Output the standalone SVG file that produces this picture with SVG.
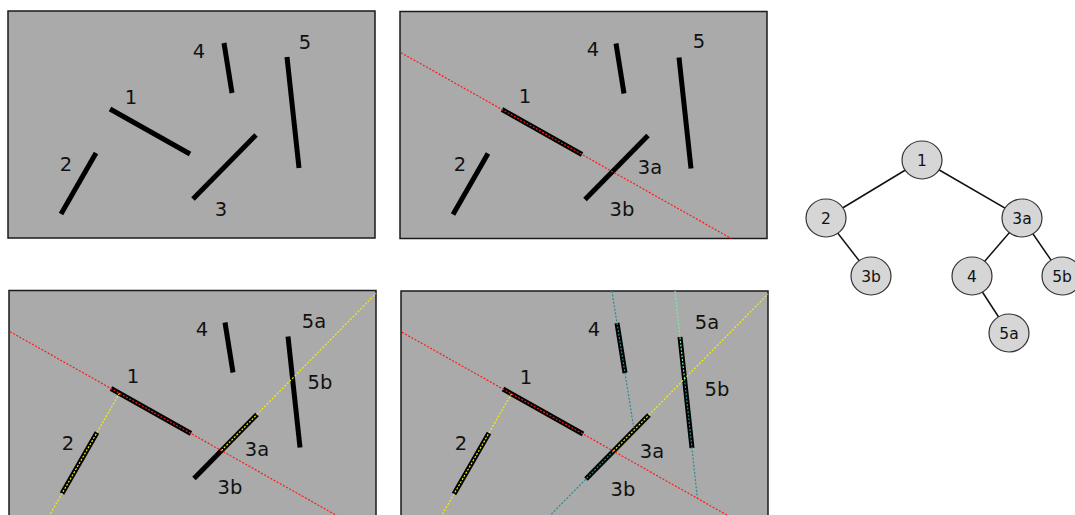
<svg xmlns="http://www.w3.org/2000/svg" width="1075" height="515" viewBox="0 0 1075 515">
<defs>
<style>
.bg{fill:#aaaaaa;stroke:#1a1a1a;stroke-width:1.5}
.seg{stroke:#000;stroke-width:5;fill:none}
.red{stroke:#ff1a1a;stroke-width:1.2;stroke-dasharray:2 1.6;fill:none}
.yel{stroke:#f5f000;stroke-width:1.2;stroke-dasharray:2 1.6;fill:none}
.teal{stroke:#2e8b8b;stroke-width:1.2;stroke-dasharray:2 1.6;fill:none}
.lgr{stroke:#6ff0a0;stroke-width:1.2;stroke-dasharray:2 1.6;fill:none}
.lbl{font-family:"DejaVu Sans",Verdana,sans-serif;font-size:19.5px;fill:#111;text-anchor:middle}
.edge{stroke:#111;stroke-width:1.5}
.nd{fill:#d6d6d6;stroke:#333;stroke-width:1.2}
.nt{font-family:"DejaVu Sans",Verdana,sans-serif;font-size:15.5px;fill:#111;text-anchor:middle}
</style>
</defs>

<!-- Panel 1 -->
<g id="panel1">
<rect class="bg" x="8" y="11" width="367" height="227"/>
<line class="seg" x1="110" y1="109" x2="190" y2="154"/>
<line class="seg" x1="96" y1="153" x2="61" y2="214"/>
<line class="seg" x1="256" y1="135" x2="193" y2="199"/>
<line class="seg" x1="224" y1="43" x2="232" y2="93"/>
<line class="seg" x1="287" y1="57" x2="299" y2="168"/>
<text class="lbl" x="131" y="104">1</text>
<text class="lbl" x="66" y="171">2</text>
<text class="lbl" x="221" y="215.5">3</text>
<text class="lbl" x="199" y="57.5">4</text>
<text class="lbl" x="305" y="48.5">5</text>
</g>

<!-- Panel 2 -->
<g id="panel2" transform="translate(392,0.5)">
<rect class="bg" x="8" y="11" width="367" height="227"/>
<line class="seg" x1="110" y1="109" x2="190" y2="154"/>
<line class="seg" x1="96" y1="153" x2="61" y2="214"/>
<line class="seg" x1="256" y1="135" x2="193" y2="199"/>
<line class="seg" x1="224" y1="43" x2="232" y2="93"/>
<line class="seg" x1="287" y1="57" x2="299" y2="168"/>
<line class="red" x1="9" y1="52.2" x2="339.3" y2="238"/>
<text class="lbl" x="133" y="102.5">1</text>
<text class="lbl" x="68" y="170">2</text>
<text class="lbl" x="258" y="173">3a</text>
<text class="lbl" x="230" y="215">3b</text>
<text class="lbl" x="201" y="55">4</text>
<text class="lbl" x="307" y="47">5</text>
</g>

<!-- Panel 3 -->
<g id="panel3" transform="translate(1,279.5)">
<rect class="bg" x="8" y="11" width="367" height="227"/>
<line class="seg" x1="110" y1="109" x2="190" y2="154"/>
<line class="seg" x1="96" y1="153" x2="61" y2="214"/>
<line class="seg" x1="256" y1="135" x2="193" y2="199"/>
<line class="seg" x1="224" y1="43" x2="232" y2="93"/>
<line class="seg" x1="287" y1="57" x2="299" y2="168"/>
<line class="red" x1="9" y1="52.2" x2="339.3" y2="238"/>
<line class="yel" x1="118.5" y1="113.8" x2="47.5" y2="237.5"/>
<line class="yel" x1="220.4" y1="171.1" x2="375" y2="14"/>
<text class="lbl" x="132" y="103">1</text>
<text class="lbl" x="67" y="170">2</text>
<text class="lbl" x="256" y="176">3a</text>
<text class="lbl" x="229" y="214">3b</text>
<text class="lbl" x="201" y="56">4</text>
<text class="lbl" x="313" y="48">5a</text>
<text class="lbl" x="319" y="109">5b</text>
</g>

<!-- Panel 4 -->
<g id="panel4" transform="translate(393,280)">
<rect class="bg" x="8" y="11" width="367" height="227"/>
<line class="seg" x1="110" y1="109" x2="190" y2="154"/>
<line class="seg" x1="96" y1="153" x2="61" y2="214"/>
<line class="seg" x1="256" y1="135" x2="193" y2="199"/>
<line class="seg" x1="224" y1="43" x2="232" y2="93"/>
<line class="seg" x1="287" y1="57" x2="299" y2="168"/>
<line class="red" x1="9" y1="52.2" x2="339.3" y2="238"/>
<line class="yel" x1="118.5" y1="113.8" x2="47.5" y2="237.5"/>
<line class="yel" x1="220.4" y1="171.1" x2="375" y2="14"/>
<line class="teal" x1="220.4" y1="171.1" x2="154.6" y2="238"/>
<line class="teal" x1="218.9" y1="11" x2="241.1" y2="150.1"/>
<line class="lgr" x1="282" y1="11" x2="291.5" y2="98.9"/>
<line class="teal" x1="291.5" y1="98.9" x2="304.4" y2="218.4"/>
<text class="lbl" x="133" y="103.5">1</text>
<text class="lbl" x="68" y="169.5">2</text>
<text class="lbl" x="259" y="177.5">3a</text>
<text class="lbl" x="230" y="215.5">3b</text>
<text class="lbl" x="201" y="56">4</text>
<text class="lbl" x="314" y="48.5">5a</text>
<text class="lbl" x="324" y="115.5">5b</text>
</g>

<!-- Tree -->
<g id="connectors">
<line class="edge" x1="922" y1="160" x2="826" y2="218"/>
<line class="edge" x1="922" y1="160" x2="1022" y2="218"/>
<line class="edge" x1="826" y1="218" x2="871" y2="276"/>
<line class="edge" x1="1022" y1="218" x2="972" y2="276"/>
<line class="edge" x1="1022" y1="218" x2="1062" y2="276"/>
<line class="edge" x1="972" y1="276" x2="1009" y2="333"/>
</g>
<g id="node-1"><ellipse class="nd" cx="922" cy="160" rx="20" ry="19"/><text class="nt" x="922" y="165.5">1</text></g>
<g id="node-2"><ellipse class="nd" cx="826" cy="218" rx="20" ry="19"/><text class="nt" x="826" y="223.5">2</text></g>
<g id="node-3a"><ellipse class="nd" cx="1022" cy="218" rx="20" ry="19"/><text class="nt" x="1022" y="223.5">3a</text></g>
<g id="node-3b"><ellipse class="nd" cx="871" cy="276" rx="20" ry="19"/><text class="nt" x="871" y="281.5">3b</text></g>
<g id="node-4"><ellipse class="nd" cx="972" cy="276" rx="20" ry="19"/><text class="nt" x="972" y="281.5">4</text></g>
<g id="node-5b"><ellipse class="nd" cx="1062" cy="276" rx="20" ry="19"/><text class="nt" x="1062" y="281.5">5b</text></g>
<g id="node-5a"><ellipse class="nd" cx="1009" cy="333" rx="20" ry="19"/><text class="nt" x="1009" y="338.5">5a</text></g>
</svg>
